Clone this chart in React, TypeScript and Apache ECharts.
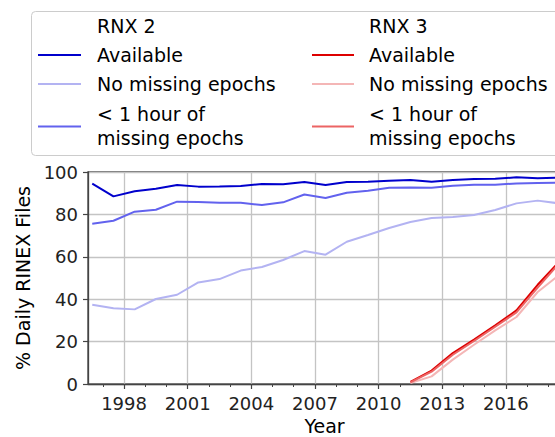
import React, { useEffect, useRef } from "react";
import * as echarts from "echarts";

const years = [1996.5, 1997.5, 1998.5, 1999.5, 2000.5, 2001.5, 2002.5, 2003.5, 2004.5, 2005.5, 2006.5, 2007.5, 2008.5, 2009.5, 2010.5, 2011.5, 2012.5, 2013.5, 2014.5, 2015.5, 2016.5, 2017.5, 2018.5];
const rnx2Available = [94.5, 88.5, 90.9, 92.1, 93.9, 93.1, 93.2, 93.4, 94.3, 94.2, 95.3, 93.9, 95.3, 95.4, 95.9, 96.2, 95.4, 96.2, 96.7, 96.8, 97.5, 97.0, 97.3];
const rnx2NoMissing = [37.4, 35.7, 35.2, 40.1, 42.1, 47.9, 49.5, 53.5, 55.2, 58.5, 62.7, 61.0, 67.1, 70.3, 73.6, 76.4, 78.3, 78.8, 79.7, 82.1, 85.2, 86.5, 85.2];
const rnx2OneHour = [75.6, 77.0, 81.3, 82.2, 86.0, 85.8, 85.5, 85.5, 84.4, 85.7, 89.4, 87.7, 90.2, 91.2, 92.6, 92.7, 92.6, 93.5, 94.0, 94.0, 94.6, 94.8, 95.0];

const rnx3Years = [2011.5, 2012.5, 2013.5, 2014.5, 2015.5, 2016.5, 2017.5, 2018.5];
const rnx3Available = [1.0, 6.3, 14.6, 20.9, 27.7, 34.7, 46.8, 57.5];
const rnx3NoMissing = [0.5, 3.6, 11.5, 18.5, 25.3, 31.6, 43.4, 51.3];
const rnx3OneHour = [0.8, 5.8, 13.8, 20.3, 27.0, 33.8, 45.5, 56.8];

const xMajorTicks = [1998, 2001, 2004, 2007, 2010, 2013, 2016];
const xMinorTicks = [1997, 1998, 1999, 2000, 2001, 2002, 2003, 2004, 2005, 2006, 2007, 2008, 2009, 2010, 2011, 2012, 2013, 2014, 2015, 2016, 2017, 2018];

const legendHeaders = ["RNX 2", "RNX 3"];
const legendLabels = ["Available", "No missing epochs", "< 1 hour of\nmissing epochs"];

const FONT = "DejaVu Sans";
const blueColors = ["#0000cc", "#b3b3f2", "#6262ee"];
const redColors = ["#dd0000", "#f4b6b6", "#ec6464"];

export default function App() {
  const ref = useRef<HTMLDivElement>(null);

  useEffect(() => {
    if (!ref.current) return;
    const chart = echarts.init(ref.current, null, { renderer: "svg" });

    const zip = (xs: number[], ys: number[]) => xs.map((x, i) => [x, ys[i]]);
    const mk = (name: string, data: number[][], color: string) => ({
      name,
      type: "line",
      data,
      showSymbol: false,
      symbol: "none",
      lineStyle: { color, width: 2 },
      itemStyle: { color },
      xAxisIndex: 0,
      yAxisIndex: 0,
      clip: true,
    });

    const rowY = [26, 55, 84, 125.5];
    const colText = [97, 369];
    const colLine = [[38, 81], [312, 354]];
    const legendGraphic: any[] = [
      {
        type: "rect",
        shape: { x: 31.5, y: 11.5, width: 620, height: 144, r: 4 },
        style: { fill: "rgba(255,255,255,0.9)", stroke: "#cccccc", lineWidth: 1 },
        z: 100,
      },
    ];
    [blueColors, redColors].forEach((cols, c) => {
      legendGraphic.push({
        type: "text",
        x: colText[c],
        y: rowY[0],
        style: { text: legendHeaders[c], font: `19px "${FONT}"`, fill: "#000", verticalAlign: "middle", align: "left" },
        z: 101,
      });
      legendLabels.forEach((lab, i) => {
        const y = rowY[i + 1];
        const ly = i === 2 ? 126.5 : y;
        legendGraphic.push({
          type: "line",
          shape: { x1: colLine[c][0], y1: ly, x2: colLine[c][1], y2: ly },
          style: { stroke: cols[i], lineWidth: 2 },
          z: 101,
        });
        legendGraphic.push({
          type: "text",
          x: colText[c],
          y,
          style: { text: lab, font: `19px "${FONT}"`, fill: "#000", verticalAlign: "middle", align: "left", lineHeight: 24 },
          z: 101,
        });
      });
    });

    chart.setOption({
      animation: false,
      backgroundColor: "#ffffff",
      textStyle: { fontFamily: FONT },
      grid: {
        left: 88,
        width: 473,
        top: 172,
        height: 212,
        outerBoundsMode: "none",
        containLabel: false,
        show: true,
        borderColor: "#444444",
        borderWidth: 1.3,
        backgroundColor: "transparent",
      },
      xAxis: [
        {
          type: "value",
          min: 1996.3,
          max: 2018.6,
          name: "Year",
          nameLocation: "middle",
          nameGap: 32,
          nameTextStyle: { fontFamily: FONT, fontSize: 19, color: "#000" },
          axisLine: { show: true, lineStyle: { color: "#444444", width: 1.3 } },
          axisTick: { show: true, customValues: xMajorTicks, length: 5, lineStyle: { color: "#444444", width: 1.2 } },
          axisLabel: {
            customValues: xMajorTicks,
            formatter: (v: number) => String(v),
            fontFamily: FONT,
            fontSize: 18,
            color: "#222",
            margin: 10,
          },
          splitLine: { show: true, lineStyle: { color: "#c4c4c4", width: 1.3 } },
        },
        {
          type: "value",
          min: 1996.3,
          max: 2018.6,
          position: "bottom",
          axisLine: { show: false },
          axisTick: { show: true, customValues: xMinorTicks, length: 3, lineStyle: { color: "#444444", width: 1 } },
          axisLabel: { show: false },
          splitLine: { show: false },
        },
      ],
      yAxis: {
        type: "value",
        min: 0,
        max: 100,
        interval: 20,
        name: "% Daily RINEX Files",
        nameLocation: "middle",
        nameGap: 52,
        nameTextStyle: { fontFamily: FONT, fontSize: 19, color: "#000" },
        axisLine: { show: true, lineStyle: { color: "#444444", width: 1.3 } },
        axisTick: { show: true, length: 5, lineStyle: { color: "#444444", width: 1.2 } },
        axisLabel: { fontFamily: FONT, fontSize: 18, color: "#222", margin: 10 },
        splitLine: { show: true, lineStyle: { color: "#c4c4c4", width: 1.3 } },
      },
      series: [
        mk("RNX 2 Available", zip(years, rnx2Available), blueColors[0]),
        mk("RNX 2 No missing epochs", zip(years, rnx2NoMissing), blueColors[1]),
        mk("RNX 2 < 1 hour of missing epochs", zip(years, rnx2OneHour), blueColors[2]),
        mk("RNX 3 Available", zip(rnx3Years, rnx3Available), redColors[0]),
        mk("RNX 3 No missing epochs", zip(rnx3Years, rnx3NoMissing), redColors[1]),
        mk("RNX 3 < 1 hour of missing epochs", zip(rnx3Years, rnx3OneHour), redColors[2]),
      ],
      graphic: legendGraphic,
    });

    return () => chart.dispose();
  }, []);

  return (
    <div
      ref={ref}
      style={{ position: "fixed", left: 0, top: 0, width: 555, height: 437, background: "#fff" }}
    />
  );
}
